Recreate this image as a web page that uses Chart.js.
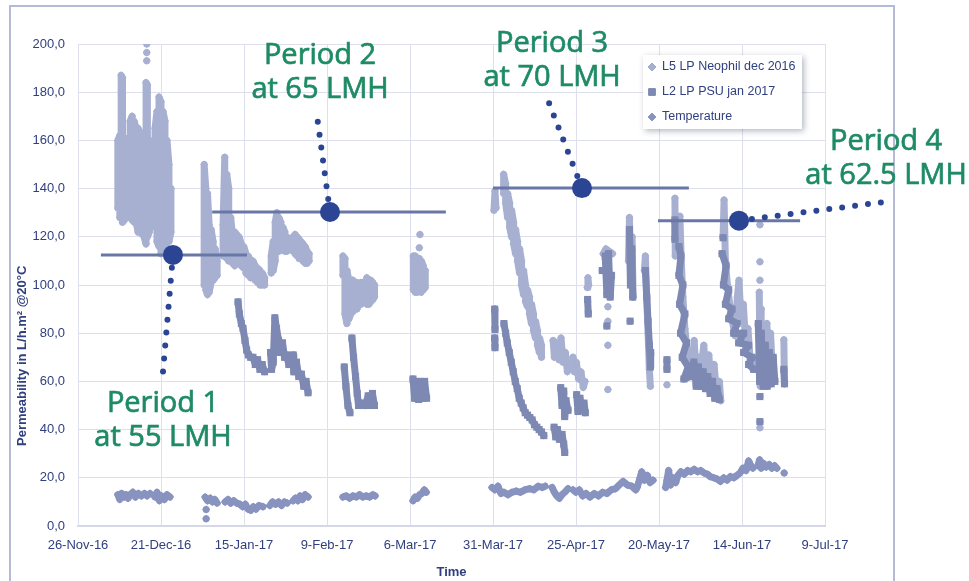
<!DOCTYPE html>
<html lang="en">
<head>
    <meta charset="UTF-8">
    <title>Permeability by period</title>
    <script src="https://cdn.jsdelivr.net/npm/chart.js"></script>
    <style>
        html, body {
            margin: 0;
            padding: 0;
            background: #ffffff;
            overflow: hidden;
        }
        .frame {
            position: absolute;
            left: 9px;
            top: 5px;
            width: 886px;
            height: 640px;
            border: 2px solid #b5bad6;
            box-sizing: border-box;
        }
        #chart {
            position: absolute;
            left: 0;
            top: 0;
        }
    </style>
</head>
<body>

<div class="frame"></div>
<canvas id="chart" width="969" height="581"></canvas>

<script>
    // x = days since 26-Nov-16, y = permeability (L/h.m² @20°C) or temperature
    const xTickLabels = ['26-Nov-16', '21-Dec-16', '15-Jan-17', '9-Feb-17', '6-Mar-17',
                         '31-Mar-17', '25-Apr-17', '20-May-17', '14-Jun-17', '9-Jul-17'];
    const yTickLabels = ['0,0', '20,0', '40,0', '60,0', '80,0', '100,0',
                         '120,0', '140,0', '160,0', '180,0', '200,0'];
    const seriesNames = ['L5 LP Neophil dec 2016', 'L2 LP PSU jan 2017', 'Temperature'];

    // L5 LP Neophil dec 2016 (null = gap in the record)
    // dense daily swings are read as low/high pairs along the time axis
    const neophilPoints = [
        [12.0,132],[12.0,160],[12.6,162],[12.6,128],[13.0,128],[13.0,187],[13.4,186],[13.4,126],[14.0,127],[14.0,161],
        [14.6,160],[14.6,130],[15.1,132],[15.1,150],
        [15.7,128],[15.7,168],[16.3,170],[16.3,127],[16.9,126],[16.9,168],[17.5,165],[17.5,126],
        [18.1,122],[18.1,165],[18.7,163],[18.7,122],[19.3,121],[19.3,162],[19.9,160],[19.9,120],
        [20.5,117],[20.5,184],[20.9,183],[20.9,120],[21.5,122],[21.5,160],[22.1,158],[22.1,124],
        null, [20.7,193], null, [20.7,196.5], null, [20.7,200], null,
        [23.2,126],[23.2,165],[23.8,172],[23.8,118],[24.4,116],[24.4,178],[25.0,176],[25.0,113],[25.6,114],[25.6,172],
        [26.2,168],[26.2,115],[26.8,118],[26.8,160],[27.4,150],[27.4,118],[28.0,122],[28.0,140],
        null,
        [38.0,100],[38.0,150],[38.5,140],[38.5,98],[39.0,96],[39.0,138],[39.5,125],[39.5,97],[40.1,101],[40.1,123],
        [40.7,118],[40.7,102],[41.3,103],[41.3,115],[41.9,110],[41.9,104],
        null,
        [43.7,112],[43.7,125],[44.2,153],[44.2,112],[44.8,111],[44.8,146],[45.4,140],[45.4,110],[46.0,110],[46.0,128],
        [46.6,120],[46.6,109],[47.2,108],[47.2,122],[47.8,121],[47.8,111],[48.5,110],[48.5,120],[49.2,117],[49.2,108],
        [49.9,107],[49.9,116],[50.6,113],[50.6,105],[51.3,104],[51.3,112],[52.0,110],[52.0,103],[52.7,103],[52.7,110],
        [53.4,108],[53.4,102],[54.1,101],[54.1,107],[54.8,106],[54.8,100],[55.5,100],[55.5,105],[56.2,103],[56.2,100],
        null,
        [58.2,105],[58.2,112],[58.8,118],[58.8,106],[59.4,110],[59.4,126],[59.9,130],[59.9,114],[60.5,114],[60.5,128],
        [61.1,126],[61.1,115],[61.7,116],[61.7,124],[62.3,122],[62.3,114],[62.9,114],[62.9,120],[63.5,119],[63.5,115],
        null,
        [64.8,114],[64.8,120],[65.4,121],[65.4,113],[66.0,112],[66.0,120],[66.6,119],[66.6,111],[67.2,111],[67.2,118],
        [67.8,117],[67.8,110],[68.4,109],[68.4,116],[69.0,114],[69.0,109],[69.6,110],[69.6,113],
        null,
        [79.8,104],[79.8,112],[80.4,111],[80.4,88],[81.0,84],[81.0,106],[81.6,102],[81.6,86],[82.2,88],[82.2,100],
        [82.8,102],[82.8,89],[83.4,90],[83.4,100],[84.0,101],[84.0,90],[84.6,92],[84.6,100],[85.2,101],[85.2,92],
        [85.8,93],[85.8,101],[86.4,100],[86.4,93],[87.0,92],[87.0,103],[87.6,102],[87.6,92],[88.2,93],[88.2,102],
        [88.8,101],[88.8,94],[89.3,95],[89.3,100],
        null,
        [101.0,98],[101.0,112],[101.6,112],[101.6,97],[102.2,97],[102.2,111],[102.8,111],[102.8,98],[103.4,97],[103.4,110],
        [104.0,108],[104.0,98],[104.6,99],[104.6,106],
        null, [103.0,121], null, [102.8,115.5], null,
        [125.3,131],[125.6,139],[125.9,132],
        null,
        [128.2,138],[128.2,146],[128.8,142],[128.8,134],[129.4,128],[129.4,138],[130.0,134],[130.0,124],[130.6,120],[130.6,131],
        [131.2,126],[131.2,117],[131.8,113],[131.8,123],[132.4,118],[132.4,110],[133.0,105],[133.0,115],[133.6,110],[133.6,100],
        [134.2,96],[134.2,106],[134.8,100],[134.8,93],[135.4,91],[135.4,98],[136.0,95],[136.0,88],[136.6,84],[136.6,92],
        [137.2,88],[137.2,81],[137.8,78],[137.8,85],[138.4,81],[138.4,75],[139.0,72],[139.0,78],[139.6,75],[139.6,70],
        null,
        [143.1,77],[143.5,70],[144.2,76],[144.9,69],[145.5,78],[146.1,68],[146.8,72],[147.4,64],[148.0,67],
        null,
        [149.1,70],[149.5,64],[150.1,68],[150.8,61],[151.5,64],[152.2,57.5],[152.7,60],
        null,
        [153.4,99],[153.6,103],[153.8,100],
        null,
        [158.2,113],[159.0,115],[160.0,114],[161.0,113],
        null, [159.6,91], null, [159.6,85], null, [159.6,75], null, [159.6,56.6], null,
        [165.8,110],[166.1,128],[166.5,100],[166.9,120],[167.2,95],
        null,
        [170.6,106],[170.9,112],[171.3,95],[171.7,80],[172.1,65],[172.4,58],
        null, [177.4,58.6], null,
        [179.8,136],[179.9,112],
        null,
        [181.0,120],[181.3,128.5],[181.7,110],[182.2,95],[182.8,82],[183.5,72],[184.2,66],[185.0,62],[185.6,77],[186.2,62],
        [186.8,70],[187.3,58],[187.8,67],[188.5,75],[189.2,60],[190.0,71],[190.8,57],[191.6,67],[192.4,53],[193.2,60],[193.6,52],
        null,
        [194.3,120],[194.6,135.3],[195.0,110],[195.6,100],[196.3,92],[197.1,85],[197.9,79],[198.6,95],[199.1,102],[199.7,85],
        [200.4,92],[201.1,76],[201.8,82],[202.5,68],[203.2,70],[203.5,65],
        null, [205.4,125], null, [205.4,109.6], null, [205.4,102], null, [205.4,40.8], null,
        [205.2,97],[205.5,58],[205.8,90],
        null,
        [207.0,60],[207.5,84],[208.0,62],[208.6,80],[209.3,60],
        null,
        [212.6,77.3],[212.8,59]
    ];

    // L2 LP PSU jan 2017
    const psuPoints = [
        [48.2,93],[48.6,88],[49.2,84],[49.7,82],[50.3,77],[50.8,73],[51.3,71],[52.0,70],[52.7,70],[53.4,67],[54.1,69],[54.8,65],[55.5,67],[56.2,64],
        null,
        [58.0,72],[58.3,65],[58.8,68],[59.3,86.4],[59.8,82],[60.4,77],[61.0,72],[61.6,76],[62.2,70],[62.8,71],[63.5,67],
        null,
        [64.8,71],[65.0,64],[65.8,68],[66.5,62],[67.3,63],[68.0,58],[68.7,60],[69.3,55.3],
        null,
        [80.2,66],[80.7,58],[81.3,50],[81.9,47],
        null,
        [82.5,78],[83.0,70],[83.6,62],[84.1,55],[84.5,50],[85.5,51],[86.5,50],[87.4,54],[88.0,50],[88.7,55],[89.3,50],
        null,
        [100.9,61],[101.4,53],[102.0,60],[102.6,52.5],[103.2,60],[103.8,53],[104.4,60],[105.0,53],
        null,
        [125.5,90],[125.6,81.5],
        null,
        [125.5,78],[125.6,74],
        null,
        [128.3,84],[128.8,80],[129.3,76],[129.9,72],[130.5,68],[131.1,64],[131.7,60],[132.3,57],[132.9,53],[133.5,51],
        [134.1,49],[134.7,47],[135.4,46],[136.1,45],[136.8,44],[137.5,42],[138.2,41],[138.9,40],[139.6,39],[140.3,37.5],
        null,
        [143.4,41],[143.9,37],[144.4,40],[145.0,36],[145.8,38],[146.3,34],[146.6,30.5],
        null,
        [145.4,57.4],[145.8,50],[146.3,56],[146.6,45.4],[147.0,52],[147.6,48],
        null,
        [150.2,54.5],[150.6,47.5],[151.2,53],[151.8,48],[152.4,51],[152.8,47],
        null,
        [153.5,94],[153.7,88],
        null, [157.9,106], null,
        [158.8,112],[159.3,96],[159.8,113],[160.3,95],[160.7,104],
        null, [159.3,83], null,
        [166.1,123],[166.4,100],[166.8,115],[167.1,95],
        null, [166.3,85], null,
        [170.9,106],[171.3,95],[171.7,85],[172.1,75],[172.4,66],[172.5,72],
        null,
        [177.4,69],[177.4,65],
        null,
        [179.8,127],[179.8,119],
        null,
        [181.0,116],[181.6,112],[181.0,104],[182.2,100],[181.2,92],[182.8,88],[181.5,80],[183.3,76],[182.0,70],[183.8,66],
        [182.5,61],[184.5,62],[185.5,68],[186.2,58],[186.9,66],[187.6,58],[188.3,64],[189.0,57],[189.7,62],[190.4,55],
        [191.1,60],[191.8,53],[192.5,57],[193.2,52.5],
        null, [194.3,119.6], null,
        [194.0,113],[195.2,108],[194.4,100],[196.0,98],[195.0,92],[197.0,90],[196.0,86],[198.5,84],[197.5,80],[200.5,80],
        [199.0,76],[202.0,75],[200.5,72],[203.0,70],[202.0,67],[203.5,65],
        null,
        [204.9,84],[205.3,60],[205.8,80],[206.4,58],[207.0,75],[207.6,58],[208.2,72],[208.8,59],[209.4,70],[209.9,60],
        null, [205.4,53.7], null, [205.4,43.3], null,
        [212.6,65],[212.8,59]
    ];

    // Temperature (°C)
    const temperaturePoints = [
        [12.0,13],[12.6,11],[13.2,13.5],[13.9,12],[14.5,13],[15.1,11.5],
        null,
        [15.7,13],[16.5,14],[17.3,12],[18.2,13.5],[19.1,12.5],[20.0,13.5],[20.8,12.5],[21.7,13.5],
        null,
        [23.2,12],[23.8,14],[24.5,10.5],[25.2,12.5],[26.0,11],[26.8,13],[27.7,12],
        null,
        [38.3,12],[39.0,10.5],[39.8,11.5],[40.5,10],[41.2,11],[41.9,9.5],
        null, [38.6,6.8], null, [38.6,3], null,
        [44.3,10],[45.2,11],[46.0,9.5],[46.9,10.5],[47.8,9.5],[48.8,9],[49.6,8],[50.4,9],[51.2,7],[52.0,6.5],[52.8,8],[53.6,7],[54.5,8.5],[55.7,8],
        null,
        [57.8,8.5],[58.6,10],[59.5,9],[60.4,10],[61.3,8.5],[62.2,10],[63.0,9.5],
        null,
        [64.8,10.5],[65.5,11.5],[66.2,10.5],[66.9,12.5],[67.6,11],[68.4,13],[69.3,12],
        null,
        [79.8,12],[80.8,12.5],[81.8,11.5],[82.8,12.5],[83.8,12],[84.8,13],[85.8,12],[86.8,12.5],[87.8,12],[88.8,13],[89.5,12.5],
        null,
        [100.9,10.5],[101.5,12],[102.2,11.5],[102.9,13],[103.6,13.5],[104.3,15],[104.9,14],
        null,
        [124.7,16],[125.6,15],[126.5,16.5],[127.4,13.5],[128.3,14],[129.5,13],[130.7,14],[132.0,14.5],[133.3,14],[134.6,15],
        [136.0,15.5],[137.3,15],[138.6,16.5],[139.8,16],[140.7,16.5],
        null,
        [142.8,16],[143.5,14],[144.2,12.5],[145.0,11.5],[145.8,13],[146.6,14],[147.6,15.5],
        null,
        [149.1,15],[150.0,14],[151.0,15],[152.0,12.5],[153.0,13.5],[154.2,12],[155.5,13.5],[156.8,12.5],[158.0,14],[159.3,13.5],
        [160.6,15],[161.9,15.5],[163.0,17],[164.2,18.5],[165.5,17],[166.8,16.5],[168.0,15],[168.4,16],[169.3,20],[169.8,22.5],
        [170.6,19],[171.5,21],[172.3,18],[173.2,19],
        null,
        [177.0,16],[177.4,19],[177.9,23],[178.5,17],[179.2,20],[180.0,18],[180.7,21],[181.6,22.5],[182.6,21.5],[183.6,23],
        [184.6,22.5],[185.6,23.5],[186.6,22.5],[187.6,23],[188.6,22],[189.6,21.5],[190.4,20.5],[191.5,20],[192.5,19.5],[193.5,18.5],
        [194.5,20],[195.5,19],[196.5,20.5],[197.5,20],[198.5,21],[199.4,22],[200.3,24],[201.2,23],[202.0,27],[202.7,25],[203.3,24],
        null,
        [204.8,25],[205.3,27.5],[205.8,24],[206.5,26],[207.3,24.5],[208.2,25.5],[209.0,24],[209.8,25],[210.5,24],
        null, [212.7,22]
    ];

    // Operating periods: mean permeability level and the days it covers
    const periodNames = ['Period 1', 'Period 2', 'Period 3', 'Period 4'];
    const periodFlux = ['at 55 LMH', 'at 65 LMH', 'at 70 LMH', 'at 62.5 LMH'];
    const periodLevel = [112.5, 130.3, 140.2, 126.7];
    const periodStart = [6.9, 40.4, 125.0, 174.7];
    const periodEnd = [50.9, 110.8, 184.0, 217.5];
    const periodMarkDay = [28.6, 75.9, 151.8, 199.1];

    // where each label sits (data coords) and where its dotted leader ends
    const labelLayout = {
        day:        [25.6, 72.9, 142.8, 243.4],
        value:      [47.4, 191.9, 196.8, 156.1],
        leaderDay:  [25.6, 72.0, 141.6, 243.7],
        leaderVal:  [64, 170, 176.5, 134.6]
    };

    const colors = {
        neophil: '#a7b0d1',
        psu: '#7d89b3',
        temp: '#8893bf',
        periodLine: '#6977a6',
        mark: '#2b4594',
        label: '#1e8b65',
        text: '#2f3f7f',
        grid: '#dde0ec'
    };

    const toXY = pts => pts.map(p => p ? { x: p[0], y: p[1] } : { x: null, y: null });

    function seriesDataset(pts, color, style, radius, order) {
        return {
            data: toXY(pts),
            showLine: true,
            spanGaps: false,
            borderColor: color,
            backgroundColor: color,
            borderWidth: 7,
            borderJoinStyle: 'round',
            borderCapStyle: 'round',
            pointStyle: style,
            pointRadius: radius,
            pointBorderWidth: 0,
            pointBackgroundColor: color,
            order: order
        };
    }

    const datasets = [
        seriesDataset(neophilPoints, colors.neophil, 'rectRot', 4, 3),
        seriesDataset(psuPoints, colors.psu, 'rect', 5, 2),
        seriesDataset(temperaturePoints, colors.temp, 'rectRot', 4, 4)
    ];

    periodLevel.forEach((level, i) => {
        // horizontal level line
        datasets.push({
            data: [{ x: periodStart[i], y: level }, { x: periodEnd[i], y: level }],
            showLine: true,
            borderColor: colors.periodLine,
            borderWidth: 3,
            pointRadius: 0,
            order: 1
        });
        // dotted leader towards the label
        datasets.push({
            data: [{ x: periodMarkDay[i], y: level }, { x: labelLayout.leaderDay[i], y: labelLayout.leaderVal[i] }],
            showLine: true,
            borderColor: colors.mark,
            borderWidth: 6,
            borderDash: [0, 13],
            borderCapStyle: 'round',
            pointRadius: 0,
            clip: false,
            order: 0
        });
        // big marker on the line
        datasets.push({
            data: [{ x: periodMarkDay[i], y: level }],
            pointRadius: 10,
            pointBackgroundColor: colors.mark,
            pointBorderWidth: 0,
            clip: false,
            order: 0
        });
    });

    // Green period captions (a thin stroke gives the semibold look)
    const periodLabels = {
        id: 'periodLabels',
        afterDatasetsDraw(chart) {
            const { ctx, scales: { x, y } } = chart;
            ctx.save();
            ctx.fillStyle = colors.label;
            ctx.strokeStyle = colors.label;
            ctx.lineWidth = 0.7;
            ctx.font = "29px 'Open Sans', sans-serif";
            ctx.textAlign = 'center';
            ctx.textBaseline = 'alphabetic';
            periodNames.forEach((name, i) => {
                const px = x.getPixelForValue(labelLayout.day[i]);
                const py = y.getPixelForValue(labelLayout.value[i]);
                ctx.fillText(name, px, py);
                ctx.strokeText(name, px, py);
                ctx.fillText(periodFlux[i], px, py + 34);
                ctx.strokeText(periodFlux[i], px, py + 34);
            });
            ctx.restore();
        }
    };

    // Y axis title sits low on the axis in the original, so draw it by hand
    const yTitle = {
        id: 'yTitle',
        afterDraw(chart) {
            const ctx = chart.ctx;
            ctx.save();
            ctx.translate(22, 446);
            ctx.rotate(-Math.PI / 2);
            ctx.font = "bold 13px 'Liberation Sans', sans-serif";
            ctx.fillStyle = colors.text;
            ctx.textAlign = 'left';
            ctx.textBaseline = 'middle';
            ctx.fillText('Permeability in L/h.m² @20°C', 0, 0);
            ctx.restore();
        }
    };

    // Legend box with a soft shadow, like the spreadsheet one
    const legendBox = {
        id: 'legendBox',
        afterDraw(chart) {
            const ctx = chart.ctx;
            const box = { x: 643, y: 55, w: 159, h: 74 };
            ctx.save();
            ctx.shadowColor = 'rgba(40, 50, 90, 0.35)';
            ctx.shadowBlur = 6;
            ctx.shadowOffsetX = 2;
            ctx.shadowOffsetY = 2;
            ctx.fillStyle = '#ffffff';
            ctx.fillRect(box.x, box.y, box.w, box.h);
            ctx.restore();

            const marks = [
                { color: colors.neophil, style: 'rectRot', r: 4 },
                { color: colors.psu, style: 'rect', r: 5 },
                { color: colors.temp, style: 'rectRot', r: 4 }
            ];
            ctx.save();
            ctx.font = "12.5px 'Liberation Sans', sans-serif";
            ctx.textBaseline = 'middle';
            seriesNames.forEach((name, i) => {
                const cy = box.y + 12 + i * 25;
                Chart.helpers.drawPoint(ctx, {
                    pointStyle: marks[i].style, radius: marks[i].r, borderWidth: 0, rotation: 0
                }, box.x + 9, cy);
                ctx.fillStyle = marks[i].color;
                ctx.fill();
                ctx.fillStyle = colors.text;
                ctx.fillText(name, box.x + 19, cy);
            });
            ctx.restore();
        }
    };

    Chart.defaults.font.family = "'Liberation Sans', sans-serif";
    Chart.defaults.color = colors.text;

    const config = {
        type: 'scatter',
        data: { datasets: datasets },
        options: {
            responsive: false,
            animation: false,
            devicePixelRatio: 1,
            layout: { padding: { top: 44, right: 144, bottom: 0, left: 0 } },
            plugins: {
                legend: { display: false },
                tooltip: { enabled: false }
            },
            scales: {
                x: {
                    type: 'linear',
                    min: 0,
                    max: 225,
                    afterFit: s => { s.height = 55; },
                    afterBuildTicks: s => { s.ticks = xTickLabels.map((_, i) => ({ value: i * 25 })); },
                    ticks: {
                        autoSkip: false,
                        maxRotation: 0,
                        padding: 12,
                        font: { size: 13 },
                        color: colors.text,
                        callback: (v, i) => xTickLabels[i]
                    },
                    grid: { color: colors.grid, drawTicks: false },
                    border: { color: '#d3d7e8', width: 2 },
                    title: {
                        display: true,
                        text: 'Time',
                        font: { size: 13, weight: 'bold' },
                        color: colors.text,
                        padding: { top: 0, bottom: 1 }
                    }
                },
                y: {
                    min: 0,
                    max: 200,
                    afterFit: s => { s.width = 78; },
                    afterBuildTicks: s => { s.ticks = yTickLabels.map((_, i) => ({ value: i * 20 })); },
                    ticks: {
                        padding: 13,
                        font: { size: 13 },
                        color: colors.text,
                        callback: (v, i) => yTickLabels[i]
                    },
                    grid: { color: colors.grid, drawTicks: false },
                    border: { color: colors.grid, width: 1 }
                }
            }
        },
        plugins: [periodLabels, yTitle, legendBox]
    };

    new Chart(document.getElementById('chart'), config);
</script>

</body>
</html>
